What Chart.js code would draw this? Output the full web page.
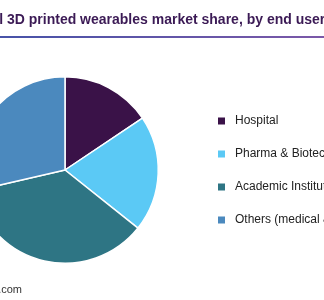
<!DOCTYPE html>
<html>
<head>
<meta charset="utf-8">
<script src="https://cdn.jsdelivr.net/npm/chart.js@4.4.1/dist/chart.umd.min.js"></script>
<style>
  html, body { margin: 0; padding: 0; overflow: hidden; background: #fff; }
  #wrap { position: absolute; left: -100px; top: 0; width: 600px; height: 300px; }
</style>
</head>
<body>
<div id="wrap"><canvas id="chart" width="600" height="300"></canvas></div>
<script>
const labels = ['Hospital', 'Pharma & Biotech Companies', 'Academic Institutions', 'Others (medical & sports)']
const shares = [15.6, 20.1, 35.7, 28.6]
const colors = ['#3a1248', '#5bc9f5', '#2e7584', '#4b89be']

const title = 'Global 3D printed wearables market share, by end user, 2021 (%)'
const source = 'Source: www.grandviewresearch.com'

const shift = 100 // canvas is moved left by this much

const decor = {
  id: 'decor',
  afterDraw(chart) {
    const ctx = chart.ctx
    ctx.save()
    // title
    ctx.font = 'bold 14px Arial, "Liberation Sans", sans-serif'
    ctx.fillStyle = '#3b1a55'
    ctx.textBaseline = 'alphabetic'
    ctx.textAlign = 'left'
    const pre = ctx.measureText('Global ').width
    ctx.fillText(title, shift + 7 - pre, 24)

    // rule under title
    const g = ctx.createLinearGradient(shift, 0, shift + 324, 0)
    g.addColorStop(0, '#4753a8')
    g.addColorStop(1, '#7b58a8')
    ctx.fillStyle = g
    ctx.fillRect(0, 36, chart.width, 2)

    // legend
    ctx.font = '12px Arial, "Liberation Sans", sans-serif'
    ctx.textBaseline = 'middle'
    chart.data.labels.forEach((lab, i) => {
      const y = 121 + i * 33
      ctx.fillStyle = chart.data.datasets[0].backgroundColor[i]
      ctx.fillRect(shift + 218, y - 3.5, 7, 7)
      ctx.fillStyle = '#222'
      ctx.fillText(lab, shift + 235, y)
    })

    // source
    ctx.font = '11px Arial, "Liberation Sans", sans-serif'
    ctx.fillStyle = '#333'
    ctx.textAlign = 'right'
    ctx.fillText(source, shift + 22, 290)
    ctx.restore()
  }
}

new Chart(document.getElementById('chart'), {
  type: 'pie',
  data: {
    labels: labels,
    datasets: [{
      data: shares,
      backgroundColor: colors,
      borderColor: '#fff',
      borderWidth: 1.5
    }]
  },
  options: {
    responsive: false,
    animation: false,
    layout: { padding: { left: 71, right: 341, top: 76, bottom: 36 } },
    plugins: {
      legend: { display: false },
      tooltip: { enabled: false }
    }
  },
  plugins: [decor]
})
</script>
</body>
</html>
